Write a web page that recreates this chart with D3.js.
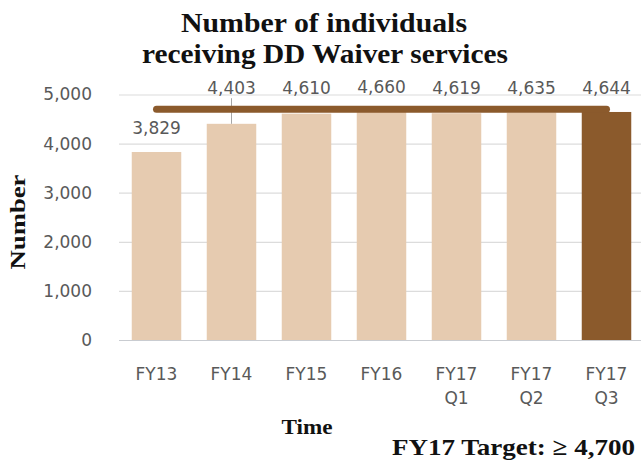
<!DOCTYPE html>
<html>
<head>
<meta charset="utf-8">
<script src="https://cdn.jsdelivr.net/npm/d3@7"></script>
<style>
  body { margin: 0; background: #fff; }
</style>
</head>
<body>
<svg width="641" height="470"></svg>
<script>
(function (d3) {
    'use strict';

    // data
    const categories = ['FY13', 'FY14', 'FY15', 'FY16', 'FY17 Q1', 'FY17 Q2', 'FY17 Q3'];
    const values = [3829, 4403, 4610, 4660, 4619, 4635, 4644];
    const target = 4700;
    const yTicks = [0, 1000, 2000, 3000, 4000, 5000];
    const current = 'FY17 Q3'; // highlighted (dark) bar

    const svg = d3.select('svg');

    const lightBar = '#e6cbb0';
    const darkBar = '#8b5a2c';
    const labelGrey = '#595959';
    const serif = '"Liberation Serif", "DejaVu Serif", serif';
    const sans = '"DejaVu Sans", "Open Sans", sans-serif';

    const x = d3.scaleBand()
        .domain(categories)
        .range([119, 644])
        .paddingInner(0.34)
        .paddingOuter(0.17);

    const y = d3.scaleLinear()
        .domain([0, 5000])
        .range([340, 94.5]);

    const cx = c => x(c) + x.bandwidth() / 2;

    // titles
    const title = svg.append('g')
        .attr('font-family', serif)
        .attr('font-weight', 'bold')
        .attr('font-size', 27)
        .attr('fill', '#111')
        .attr('text-anchor', 'middle');

    title.append('text')
        .attr('x', 324).attr('y', 31.5)
        .attr('textLength', 286).attr('lengthAdjust', 'spacingAndGlyphs')
        .text('Number of individuals');

    title.append('text')
        .attr('x', 325).attr('y', 63)
        .attr('textLength', 366).attr('lengthAdjust', 'spacingAndGlyphs')
        .text('receiving DD Waiver services');

    // gridlines + y axis labels
    const yAxis = d3.axisLeft(y)
        .tickValues(yTicks)
        .tickFormat(d3.format(','))
        .tickSize(-(641 - 119))
        .tickPadding(27);

    const yG = svg.append('g')
        .attr('transform', 'translate(119,0)')
        .call(yAxis);

    yG.select('.domain').remove();
    yG.selectAll('.tick line')
        .attr('stroke', d => d === 0 ? '#c9ccd1' : '#dcdcdc')
        .attr('stroke-width', 1.2);
    yG.selectAll('.tick text')
        .attr('font-family', sans)
        .attr('font-size', 17)
        .attr('fill', labelGrey);

    // bars
    svg.append('g')
        .selectAll('rect')
        .data(values)
        .join('rect')
        .attr('x', (d, i) => x(categories[i]))
        .attr('width', x.bandwidth())
        .attr('y', d => y(d))
        .attr('height', d => y(0) - y(d))
        .attr('fill', (d, i) => categories[i] === current ? darkBar : lightBar);

    // value labels: sit above the bar, lifted over the target line when they would hit it
    const lineTop = y(target) - 4;
    const lineBottom = y(target) + 4;
    const labels = values.map((v, i) => {
        const natural = y(v) - 18;
        const hits = natural > lineTop - 11 && natural - 13 < lineBottom;
        const ly = hits ? Math.min(natural, y(target) - 15) : natural;
        return { v, c: categories[i], ly, leader: natural - ly > 5 };
    });

    svg.append('g')
        .selectAll('line')
        .data(labels.filter(d => d.leader))
        .join('line')
        .attr('x1', d => cx(d.c))
        .attr('x2', d => cx(d.c))
        .attr('y1', d => d.ly + 4)
        .attr('y2', d => y(d.v))
        .attr('stroke', '#a6a6a6')
        .attr('stroke-width', 1);

    // target line
    svg.append('line')
        .attr('x1', cx(categories[0]))
        .attr('x2', cx(categories[categories.length - 1]))
        .attr('y1', y(target))
        .attr('y2', y(target))
        .attr('stroke', darkBar)
        .attr('stroke-width', 7)
        .attr('stroke-linecap', 'round');

    svg.append('g')
        .attr('font-family', sans)
        .attr('font-size', 17)
        .attr('fill', labelGrey)
        .attr('text-anchor', 'middle')
        .selectAll('text')
        .data(labels)
        .join('text')
        .attr('x', d => cx(d.c))
        .attr('y', d => d.ly)
        .text(d => d3.format(',')(d.v));

    // x axis labels (wrapped on the space)
    const xLabels = svg.append('g')
        .attr('font-family', sans)
        .attr('font-size', 17)
        .attr('fill', labelGrey)
        .attr('text-anchor', 'middle')
        .selectAll('text')
        .data(categories)
        .join('text')
        .attr('x', d => cx(d))
        .attr('y', 379.5);

    xLabels.selectAll('tspan')
        .data(d => d.split(' ').map(t => ({ t, px: cx(d) })))
        .join('tspan')
        .attr('x', d => d.px)
        .attr('dy', (d, i) => i === 0 ? 0 : 24)
        .text(d => d.t);

    // axis titles
    svg.append('text')
        .attr('transform', 'translate(25,222) rotate(-90)')
        .attr('text-anchor', 'middle')
        .attr('font-family', serif)
        .attr('font-weight', 'bold')
        .attr('font-size', 21)
        .attr('fill', '#111')
        .attr('textLength', 95).attr('lengthAdjust', 'spacingAndGlyphs')
        .text('Number');

    svg.append('text')
        .attr('x', 307).attr('y', 434)
        .attr('text-anchor', 'middle')
        .attr('font-family', serif)
        .attr('font-weight', 'bold')
        .attr('font-size', 21)
        .attr('fill', '#111')
        .attr('textLength', 51).attr('lengthAdjust', 'spacingAndGlyphs')
        .text('Time');

    svg.append('text')
        .attr('x', 392).attr('y', 455)
        .attr('font-family', serif)
        .attr('font-weight', 'bold')
        .attr('font-size', 24)
        .attr('fill', '#111')
        .attr('textLength', 243).attr('lengthAdjust', 'spacingAndGlyphs')
        .text('FY17 Target: \u2265 4,700');

}(d3));
</script>
</body>
</html>
